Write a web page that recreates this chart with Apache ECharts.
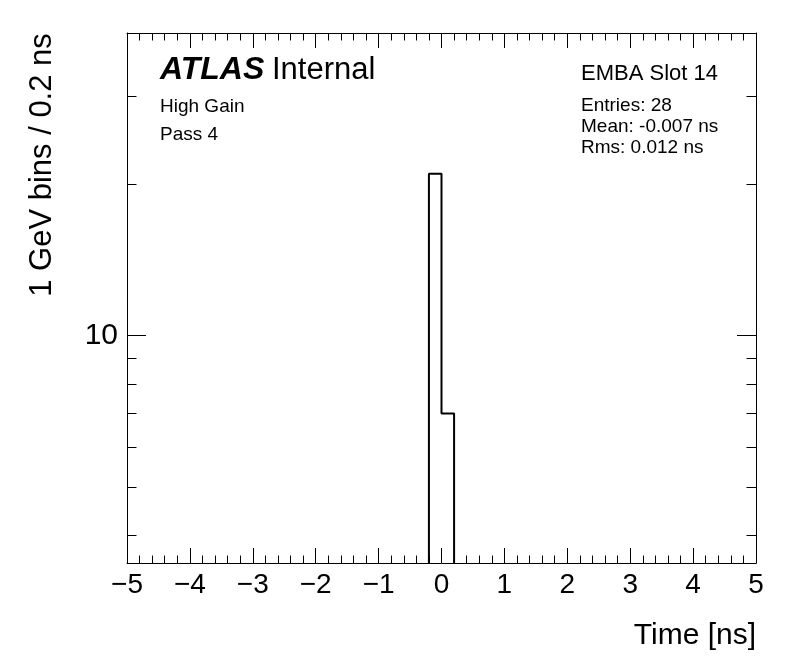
<!DOCTYPE html>
<html>
<head>
<meta charset="utf-8">
<script src="https://cdn.jsdelivr.net/npm/echarts@6/dist/echarts.min.js"></script>
<style>
html,body{margin:0;padding:0;background:#fff;}
#chart{width:796px;height:672px;}
</style>
</head>
<body>
<div id="chart"></div>
<script>
// ---- data ----
const binLowEdges = [-0.2, 0.0];      // ns
const binWidth = 0.2;                 // ns
const binCounts = [21, 7];            // entries per bin
const xRange = [-5, 5];
const yRange = [3.53, 40];            // log axis range
const yLabelValues = [10];
const yMinorTickValues = [4, 5, 6, 7, 8, 9, 20, 30];
const atlasText = ['ATLAS', 'Internal'];
const leftNotes = ['High Gain', 'Pass 4'];
const rightTitle = 'EMBA Slot 14';
const statsLines = ['Entries: 28', 'Mean: -0.007 ns', 'Rms: 0.012 ns'];
const xTitle = 'Time [ns]';
const yTitle = '1 GeV bins / 0.2 ns';

// build histogram outline (step) from bins
const outline = [];
outline.push([binLowEdges[0], yRange[0]]);
binLowEdges.forEach((lo, i) => {
  outline.push([lo, binCounts[i]]);
  outline.push([lo + binWidth, binCounts[i]]);
});
outline.push([binLowEdges[binLowEdges.length - 1] + binWidth, yRange[0]]);

const FONT = '"Liberation Sans", Arial, Helvetica, sans-serif';
const black = '#000';

function xAxisCfg(pos, showLabel) {
  return {
    type: 'value', position: pos, min: xRange[0], max: xRange[1], interval: 1,
    axisLine: { show: true, onZero: false, lineStyle: { color: black, width: 1 } },
    axisTick: { show: true, inside: true, length: 15, lineStyle: { color: black, width: 1 } },
    minorTick: { show: true, splitNumber: 5, length: 7.5, lineStyle: { color: black, width: 1 } },
    axisLabel: {
      show: showLabel, color: black, fontFamily: FONT, fontSize: 28, margin: 8,
      formatter: v => (v < 0 ? '\u2212' + Math.abs(v) : String(v))
    },
    splitLine: { show: false }, minorSplitLine: { show: false }
  };
}
function yAxisCfg(pos, major, showLabel) {
  return {
    type: 'log', logBase: 10, position: pos, min: yRange[0], max: yRange[1],
    axisLine: { show: major, onZero: false, lineStyle: { color: black, width: 1 } },
    axisTick: {
      show: true, inside: true, length: major ? 19 : 9.5,
      customValues: major ? yLabelValues : yMinorTickValues,
      lineStyle: { color: black, width: 1 }
    },
    axisLabel: {
      show: showLabel, customValues: yLabelValues, color: black,
      fontFamily: FONT, fontSize: 30, margin: 9
    },
    splitLine: { show: false }
  };
}

function txt(x, y, text, size, align, extra) {
  return { type: 'text', x: x, y: y, style: Object.assign({
    text: text, font: size + 'px ' + FONT, fill: black,
    verticalAlign: 'middle', align: align || 'left' }, extra || {}) };
}

const chart = echarts.init(document.getElementById('chart'), null, { renderer: 'canvas' });
const option = {
  animation: false,
  backgroundColor: '#fff',
  grid: { left: 127, right: 40, top: 33, bottom: 109, containLabel: false },
  xAxis: [xAxisCfg('bottom', true), xAxisCfg('top', false)],
  yAxis: [
    yAxisCfg('left', true, true), yAxisCfg('left', false, false),
    yAxisCfg('right', true, false), yAxisCfg('right', false, false)
  ],
  series: [{
    type: 'line', xAxisIndex: 0, yAxisIndex: 0, data: outline,
    symbol: 'none', lineStyle: { color: black, width: 2 }, z: 3
  }],
  graphic: [
    { type: 'text', x: 160, y: 70, style: {
        text: atlasText[0], font: 'italic bold 32px ' + FONT, fill: black,
        verticalAlign: 'middle', align: 'left' } },
    txt(272, 70, atlasText[1], 31),
    txt(160, 107, leftNotes[0], 19),
    txt(160, 135, leftNotes[1], 19),
    txt(581, 74, rightTitle, 22),
    txt(581, 106, statsLines[0], 19),
    txt(581, 127, statsLines[1], 19),
    txt(581, 148, statsLines[2], 19),
    txt(756, 636, xTitle, 30, 'right'),
    { type: 'text', x: 42, y: 165, rotation: Math.PI / 2, style: {
        text: yTitle, font: '31px ' + FONT, fill: black, verticalAlign: 'middle', align: 'center' } }
  ]
};
chart.setOption(option);
</script>
</body>
</html>
